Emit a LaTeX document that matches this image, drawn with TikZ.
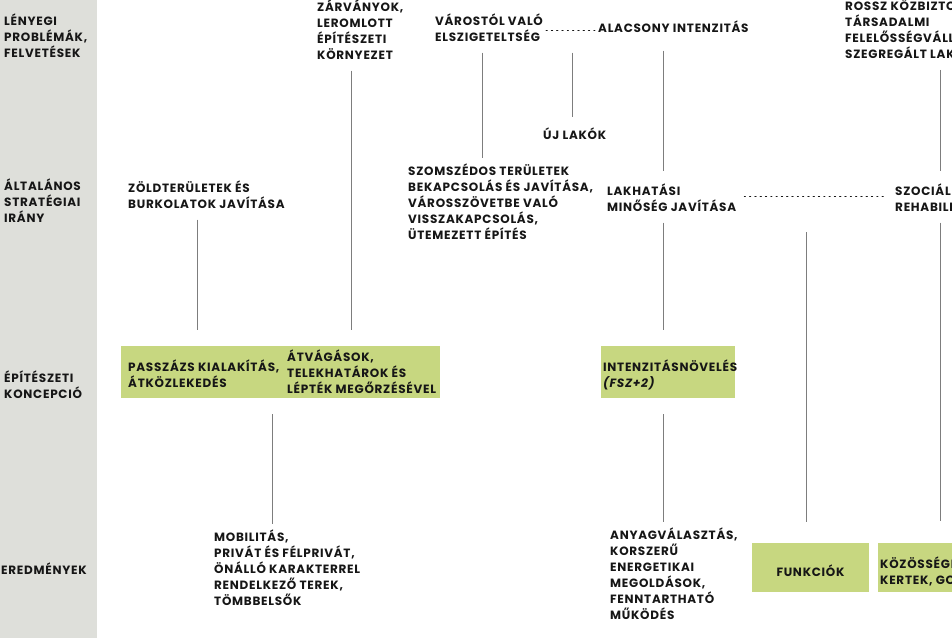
\documentclass[tikz,border=0pt]{standalone}
\usepackage{fontspec}
\setmainfont{Poppins}[LetterSpace=6]

\definecolor{sidegray}{RGB}{222,223,218}
\definecolor{boxgreen}{RGB}{199,215,128}
\definecolor{ink}{RGB}{22,22,22}
\definecolor{linegray}{RGB}{125,125,125}

\begin{document}
\begin{tikzpicture}[x=1pt, y=-1pt,
  lbl/.style={anchor=north west, inner sep=0pt, align=left, text=ink,
    font=\fontsize{12}{16}\selectfont\bfseries,
    execute at begin node=\strut, execute at end node=\strut},
  conn/.style={linegray, line width=0.8pt, shorten <=6pt, shorten >=6pt},
  link/.style={ink, line width=1.1pt, dash pattern=on 1.1pt off 4.2pt, line cap=round},
  greenbox/.style={fill=boxgreen, inner sep=0pt, outer sep=10pt, anchor=center}]
  \useasboundingbox (0,0) rectangle (952,638);
  \clip (0,0) rectangle (952,638);

  % Side column with the row titles
  \fill[sidegray] (0,0) rectangle (97,638);
  \node[lbl] (lp) at (4,13.8) {LÉNYEGI\\PROBLÉMÁK,\\FELVETÉSEK};
  \node[lbl] (la) at (4,178.8) {ÁLTALÁNOS\\STRATÉGIAI\\IRÁNY};
  \node[lbl] (le) at (4,370.8) {ÉPÍTÉSZETI\\KONCEPCIÓ};
  \node[lbl] (lr) at (1,562.8) {EREDMÉNYEK};

  % Problems
  \node[lbl] (zarv) at (317,-0.2) {ZÁRVÁNYOK,\\LEROMLOTT\\ÉPÍTÉSZETI\\KÖRNYEZET};
  \node[lbl] (varos) at (435,13.8) {VÁROSTÓL VALÓ\\ELSZIGETELTSÉG};
  \node[lbl] (alac) at (598,20.8) {ALACSONY INTENZITÁS};
  \node[lbl] (rossz) at (845,-0.2) {ROSSZ KÖZBIZTO\\TÁRSADALMI\\FELELŐSSÉGVÁLL\\SZEGREGÁLT LAK};
  \node[lbl] (ujlak) at (543,127.8) {ÚJ LAKÓK};

  % Strategy
  \node[lbl] (zold) at (128,180.8) {ZÖLDTERÜLETEK ÉS\\BURKOLATOK JAVÍTÁSA};
  \node[lbl] (szomsz) at (408,163.8) {SZOMSZÉDOS TERÜLETEK\\BEKAPCSOLÁS ÉS JAVÍTÁSA,\\VÁROSSZÖVETBE VALÓ\\VISSZAKAPCSOLÁS,\\ÜTEMEZETT ÉPÍTÉS};
  \node[lbl] (lakh) at (607,183.8) {LAKHATÁSI\\MINŐSÉG JAVÍTÁSA};
  \node[lbl] (szoc) at (895,183.8) {SZOCIÁL\\REHABILI};

  % Concept
  \node[greenbox, minimum width=319pt, minimum height=52pt] (box1) at (280.5,372) {};
  \node[lbl] (passz) at (128,359.8) {PASSZÁZS KIALAKÍTÁS,\\ÁTKÖZLEKEDÉS};
  \node[lbl] (atvag) at (287,349.8) {ÁTVÁGÁSOK,\\TELEKHATÁROK ÉS\\LÉPTÉK MEGŐRZÉSÉVEL};
  \node[greenbox, minimum width=134pt, minimum height=52pt] (box3) at (668,372) {};
  \node[lbl] (intenz) at (603,359.8) {INTENZITÁSNÖVELÉS\\{\itshape (FSZ+2)}};

  % Results
  \node[lbl] (mobil) at (214,529.8) {MOBILITÁS,\\PRIVÁT ÉS FÉLPRIVÁT,\\ÖNÁLLÓ KARAKTERREL\\RENDELKEZŐ TEREK,\\TÖMBBELSŐK};
  \node[lbl] (anyag) at (610,527.8) {ANYAGVÁLASZTÁS,\\KORSZERŰ\\ENERGETIKAI\\MEGOLDÁSOK,\\FENNTARTHATÓ\\MŰKÖDÉS};
  \node[greenbox, minimum width=117pt, minimum height=49pt] (funk) at (810.5,567.5) {};
  \node[lbl, anchor=base] (funkt) at (810.5,576) {FUNKCIÓK};
  \node[greenbox, minimum width=122pt, minimum height=49pt] (kozos) at (939,567.5) {};
  \node[lbl] (kozost) at (880,556.8) {KÖZÖSSÉGI\\KERTEK, GO};

  % Dotted links
  \draw[link, shorten <=3pt, shorten >=2pt] (varos.east) -- (varos.east -| alac.west);
  \draw[link, shorten <=8pt, shorten >=11pt] ([yshift=4pt]lakh.east) -- ([yshift=4pt]lakh.east -| szoc.west);
  \coordinate (link2) at (806,226);

  % Connectors
  \draw[conn] (zarv.south -| 351,0) -- (box1.north -| 351,0);
  \draw[conn] (zold.south -| 197,0) -- (box1.north -| 197,0);
  \draw[conn] (varos.south -| 482,0) -- (szomsz.north -| 482,0);
  \draw[conn, shorten >=11pt] (varos.south -| 572,0) -- (ujlak.north -| 572,0);
  \draw[conn, shorten <=13pt, shorten >=13pt] (alac.south -| 663,0) -- (lakh.north -| 663,0);
  \draw[conn, shorten >=13pt] (rossz.south -| 940,0) -- (szoc.north -| 940,0);
  \draw[conn] (lakh.south -| 663,0) -- (box3.north -| 663,0);
  \draw[conn] (box1.south -| 272,0) -- (mobil.north -| 272,0);
  \draw[conn] (box3.south -| 663,0) -- (anyag.north -| 663,0);
  \draw[conn, shorten >=11pt] (link2) -- (funk.north -| link2);
  \draw[conn, shorten >=12pt] (szoc.south -| 940,0) -- (kozos.north -| 940,0);
\end{tikzpicture}
\end{document}
